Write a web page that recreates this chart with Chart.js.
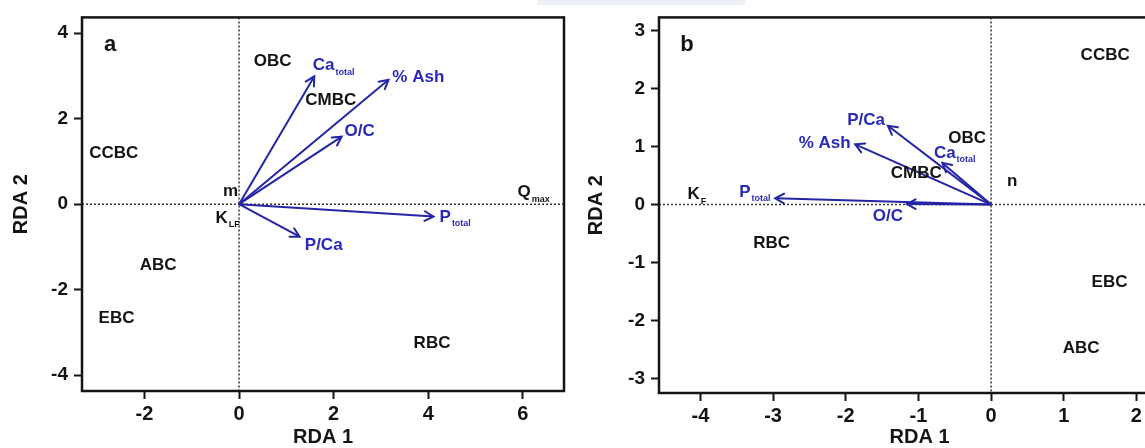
<!DOCTYPE html>
<html lang="en">
<head>
<meta charset="UTF-8">
<title>RDA biplots</title>
<script src="https://cdn.jsdelivr.net/npm/chart.js"></script>
<style>
  html, body { margin: 0; padding: 0; background: #fff; overflow: hidden; }
  body { width: 1145px; height: 448px; position: relative; }
  .panel { position: absolute; top: 0; }
  #wrapA { left: 0; }
  #wrapB { left: 578px; }
  .strip { position: absolute; left: 537px; top: 0; width: 208px; height: 5px; background: #eef0f8; }
</style>
</head>
<body>
<div class="strip"></div>
<div class="panel" id="wrapA"><canvas id="chartA" width="575" height="448"></canvas></div>
<div class="panel" id="wrapB"><canvas id="chartB" width="612" height="448"></canvas></div>

<script>
// ---- panel a ----
const xTicksA = [-2, 0, 2, 4, 6];
const yTicksA = [-4, -2, 0, 2, 4];
const siteNamesA = ['OBC', 'CMBC', 'CCBC', 'ABC', 'EBC', 'RBC'];
const siteXA = [0.71, 1.94, -2.65, -1.71, -2.59, 4.08];
const siteYA = [3.35, 2.43, 1.19, -1.43, -2.66, -3.26];
const respNamesA = ['m', 'K_LF', 'Q_max'];
const respXA = [-0.18, -0.24, 6.23];
const respYA = [0.31, -0.32, 0.27];
const varNamesA = ['Ca_total', '% Ash', 'O/C', 'P_total', 'P/Ca'];
const varXA = [1.59, 3.16, 2.17, 4.11, 1.28];
const varYA = [2.99, 2.91, 1.58, -0.29, -0.76];
const varLabelXA = [2.0, 3.79, 2.55, 4.57, 1.79];
const varLabelYA = [3.24, 2.97, 1.70, -0.31, -0.96];

// ---- panel b ----
const xTicksB = [-4, -3, -2, -1, 0, 1, 2];
const yTicksB = [-3, -2, -1, 0, 1, 2, 3];
const siteNamesB = ['CCBC', 'OBC', 'CMBC', 'RBC', 'EBC', 'ABC'];
const siteXB = [1.57, -0.33, -1.03, -3.02, 1.63, 1.24];
const siteYB = [2.58, 1.14, 0.54, -0.67, -1.34, -2.48];
const respNamesB = ['n', 'K_F'];
const respXB = [0.29, -4.05];
const respYB = [0.41, 0.17];
const varNamesB = ['P/Ca', '% Ash', 'Ca_total', 'P_total', 'O/C'];
const varXB = [-1.42, -1.87, -0.67, -2.97, -1.16];
const varYB = [1.36, 1.04, 0.72, 0.11, 0.01];
const varLabelXB = [-1.72, -2.29, -0.50, -3.25, -1.42];
const varLabelYB = [1.46, 1.05, 0.89, 0.21, -0.20];

const FONT = '"Liberation Sans", Arial, Helvetica, sans-serif';
const INK = '#141414';
const ARROW = '#2424a6';
const BLUE_TEXT = '#2a2ab8';

Chart.defaults.font.family = FONT;

// label text with optional subscript, e.g. "Ca_total"
function drawLabel(ctx, text, px, py, color) {
  const parts = text.split('_');
  const main = parts[0], sub = parts[1];
  ctx.font = 'bold 17px ' + FONT;
  const wMain = ctx.measureText(main).width;
  let wSub = 0;
  if (sub) {
    ctx.font = 'bold 9px ' + FONT;
    wSub = ctx.measureText(sub).width + 1;
  }
  const left = px - (wMain + wSub) / 2;
  ctx.fillStyle = color;
  ctx.textAlign = 'left';
  ctx.textBaseline = 'middle';
  ctx.font = 'bold 17px ' + FONT;
  ctx.fillText(main, left, py);
  if (sub) {
    ctx.font = 'bold 9px ' + FONT;
    ctx.textBaseline = 'alphabetic';
    ctx.fillText(sub, left + wMain + 1, py + 9);
  }
}

function makePanel(p) {
  const arrows = p.varX.map((x, i) => ({
    data: [{x: 0, y: 0}, {x: x, y: p.varY[i]}],
    showLine: true,
    borderColor: ARROW,
    borderWidth: 2,
    pointRadius: 0,
    fill: false
  }));

  const overlay = {
    id: 'overlay',
    beforeDatasetsDraw(chart) {
      const {ctx, chartArea: a, scales: {x, y}} = chart;
      ctx.save();
      ctx.strokeStyle = '#333';
      ctx.lineWidth = 1.5;
      ctx.setLineDash([2, 2]);
      ctx.beginPath();
      ctx.moveTo(a.left, y.getPixelForValue(0));
      ctx.lineTo(a.right, y.getPixelForValue(0));
      ctx.moveTo(x.getPixelForValue(0), a.top);
      ctx.lineTo(x.getPixelForValue(0), a.bottom);
      ctx.stroke();
      ctx.restore();
    },
    afterDatasetsDraw(chart) {
      const {ctx, scales: {x, y}} = chart;
      const ox = x.getPixelForValue(0), oy = y.getPixelForValue(0);
      ctx.save();
      // arrow heads
      ctx.strokeStyle = ARROW;
      ctx.lineWidth = 2;
      ctx.lineCap = 'round';
      p.varX.forEach((vx, i) => {
        const tx = x.getPixelForValue(vx), ty = y.getPixelForValue(p.varY[i]);
        const ang = Math.atan2(ty - oy, tx - ox);
        const len = 10, spread = 0.5;
        ctx.beginPath();
        ctx.moveTo(tx - len * Math.cos(ang - spread), ty - len * Math.sin(ang - spread));
        ctx.lineTo(tx, ty);
        ctx.lineTo(tx - len * Math.cos(ang + spread), ty - len * Math.sin(ang + spread));
        ctx.stroke();
      });
      // variable labels
      p.varNames.forEach((t, i) => {
        drawLabel(ctx, t, x.getPixelForValue(p.varLabelX[i]), y.getPixelForValue(p.varLabelY[i]), BLUE_TEXT);
      });
      // sites and response labels
      p.siteNames.forEach((t, i) => {
        drawLabel(ctx, t, x.getPixelForValue(p.siteX[i]), y.getPixelForValue(p.siteY[i]), INK);
      });
      p.respNames.forEach((t, i) => {
        drawLabel(ctx, t, x.getPixelForValue(p.respX[i]), y.getPixelForValue(p.respY[i]), INK);
      });
      ctx.restore();
    },
    afterDraw(chart) {
      const {ctx, chartArea: a} = chart;
      ctx.save();
      ctx.strokeStyle = INK;
      ctx.lineWidth = 2.5;
      ctx.strokeRect(a.left, a.top, a.right - a.left, a.bottom - a.top);
      ctx.fillStyle = INK;
      ctx.font = 'bold 22px ' + FONT;
      ctx.textAlign = 'center';
      ctx.textBaseline = 'middle';
      ctx.fillText(p.letter, a.left + 28, a.top + 28);
      ctx.restore();
    }
  };

  const axisCommon = {
    border: {display: false},
    grid: {display: true, drawOnChartArea: false, drawTicks: true, tickLength: 8, tickWidth: 2, tickColor: INK, color: INK},
  };

  new Chart(document.getElementById(p.id), {
    type: 'scatter',
    data: {datasets: arrows},
    options: {
      responsive: false,
      animation: false,
      events: [],
      layout: {padding: p.padding},
      plugins: {legend: {display: false}, tooltip: {enabled: false}},
      scales: {
        x: {
          ...axisCommon,
          type: 'linear',
          min: p.xRange[0],
          max: p.xRange[1],
          afterBuildTicks: s => { s.ticks = p.xTicks.map(v => ({value: v})); },
          afterFit: s => { s.height = p.xAxisHeight; },
          ticks: {color: INK, font: {size: 20, weight: 'bold'}, padding: 3, maxRotation: 0},
          title: {display: true, text: 'RDA 1', color: INK, font: {size: 20, weight: 'bold', lineHeight: 1}, padding: {top: 0, bottom: 1}}
        },
        y: {
          ...axisCommon,
          type: 'linear',
          min: p.yRange[0],
          max: p.yRange[1],
          afterBuildTicks: s => { s.ticks = p.yTicks.map(v => ({value: v})); },
          afterFit: s => { s.width = p.yAxisWidth; },
          ticks: {color: INK, font: {size: 19, weight: 'bold'}, padding: 6},
          title: {display: true, text: 'RDA 2', color: INK, font: {size: 20, weight: 'bold', lineHeight: 1}, padding: {top: p.yTitlePad, bottom: 0}}
        }
      }
    },
    plugins: [overlay]
  });
}

makePanel({
  id: 'chartA', letter: 'a',
  xRange: [-3.32, 6.87], yRange: [-4.37, 4.37],
  xTicks: xTicksA, yTicks: yTicksA,
  siteNames: siteNamesA, siteX: siteXA, siteY: siteYA,
  respNames: respNamesA, respX: respXA, respY: respYA,
  varNames: varNamesA, varX: varXA, varY: varYA, varLabelX: varLabelXA, varLabelY: varLabelYA,
  padding: {top: 16, right: 11, left: 0, bottom: 0},
  yAxisWidth: 82, xAxisHeight: 57, yTitlePad: 11
});

makePanel({
  id: 'chartB', letter: 'b',
  xRange: [-4.57, 2.6], yRange: [-3.25, 3.23],
  xTicks: xTicksB, yTicks: yTicksB,
  siteNames: siteNamesB, siteX: siteXB, siteY: siteYB,
  respNames: respNamesB, respX: respXB, respY: respYB,
  varNames: varNamesB, varX: varXB, varY: varYB, varLabelX: varLabelXB, varLabelY: varLabelYB,
  padding: {top: 14, right: 10, left: 0, bottom: 0},
  yAxisWidth: 81, xAxisHeight: 55, yTitlePad: 8
});
</script>
</body>
</html>
